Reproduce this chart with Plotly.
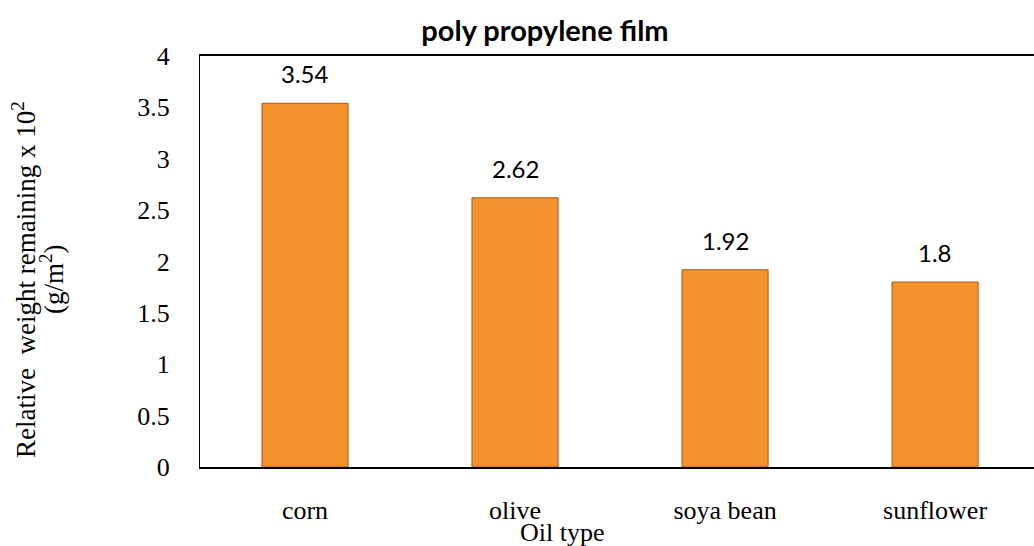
import plotly.graph_objects as go

# Oil types and the relative weight remaining on the polypropylene film
oil_types = ["corn", "olive", "soya bean", "sunflower"]
weight_remaining = [3.54, 2.62, 1.92, 1.8]
value_labels = ["3.54", "2.62", "1.92", "1.8"]
y_ticks = [0, 0.5, 1, 1.5, 2, 2.5, 3, 3.5, 4]
y_tick_text = ["0", "0.5", "1", "1.5", "2", "2.5", "3", "3.5", "4"]

W, H = 1034, 546
L, R, T, B = 200, 0, 56, 79  # plot area: x 200..1034, y 56..467
PW, PH = W - L - R, H - T - B

serif = "Liberation Serif, Times New Roman, serif"
sans = "Lato, Carlito, Calibri, sans-serif"


def px_to_paper(x_px, y_px):
    """Convert page pixel coordinates to paper coordinates."""
    return (x_px - L) / PW, (H - B - y_px) / PH


fig = go.Figure()
fig.add_trace(go.Bar(
    x=oil_types,
    y=weight_remaining,
    width=0.41,
    marker=dict(color="#F5922E", line=dict(color="#A95A17", width=1)),
    showlegend=False,
    hoverinfo="x+y",
))

# Value labels above each bar
for cat, val, lab in zip(oil_types, weight_remaining, value_labels):
    fig.add_annotation(
        x=cat, y=val, text=lab, showarrow=False,
        xref="x", yref="y", yanchor="bottom", yshift=13,
        font=dict(family=sans, size=24, color="#000000"),
    )

# Y axis title, two rotated lines
for text, cx in [("Relative  weight remaining x 10<sup>2</sup>", 24),
                 ("(g/m<sup>2</sup>)", 52)]:
    ax_, ay_ = px_to_paper(cx, 280)
    fig.add_annotation(
        text=text, x=ax_, y=ay_, xref="paper", yref="paper",
        xanchor="center", yanchor="middle",
        showarrow=False, textangle=-90,
        font=dict(family=serif, size=27, color="#000000"),
    )

# X axis title
xtx, xty = px_to_paper(562, 532)
fig.add_annotation(
    text="Oil type", showarrow=False,
    x=xtx, y=xty, xref="paper", yref="paper",
    xanchor="center", yanchor="middle",
    font=dict(family=serif, size=26, color="#000000"),
)

fig.update_layout(
    width=W, height=H,
    margin=dict(l=L, r=R, t=T, b=B),
    paper_bgcolor="white", plot_bgcolor="white",
    title=dict(
        text="<b>poly propylene film</b>",
        x=545 / W, xanchor="center", y=1 - 31 / H, yanchor="middle",
        font=dict(family=sans, size=29, color="#000000"),
    ),
    xaxis=dict(
        type="category",
        range=[-0.5, 3.471],
        showline=True, linecolor="#000000", linewidth=2, mirror=True,
        showgrid=False, ticks="",
        ticklabelstandoff=19,
        tickfont=dict(family=serif, size=26, color="#000000"),
    ),
    yaxis=dict(
        range=[0, 4],
        tickvals=y_ticks, ticktext=y_tick_text,
        showline=True, linecolor="#000000", linewidth=1,
        showgrid=False, zeroline=False, ticks="",
        ticklabelstandoff=24,
        tickfont=dict(family=serif, size=26, color="#000000"),
    ),
)

fig.write_html("out.html")
